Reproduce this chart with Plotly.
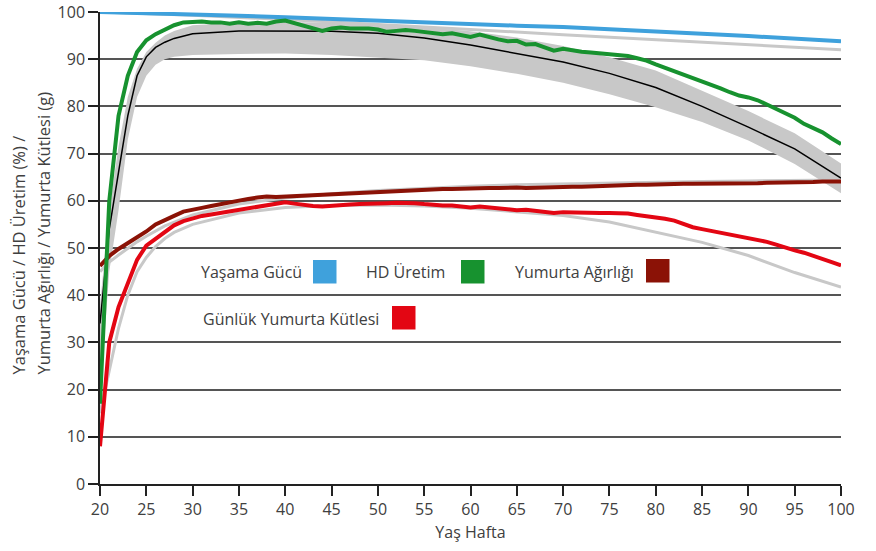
import plotly.graph_objects as go

# ---------------- data ----------------
weeks = list(range(20, 101))

hd_production = [17, 60, 78, 86.5, 91.5, 94, 95.3, 96.3, 97.2, 97.8,
                 98.0, 98.0, 97.8, 97.8, 97.5, 97.8, 97.5, 97.7, 97.5, 98.0,
                 98.2, 97.6, 97.0, 96.5, 96.0, 96.5, 96.7, 96.5, 96.6, 96.5,
                 96.3, 95.8, 96.0, 96.2, 96.0, 95.8, 95.6, 95.3, 95.5, 95.1,
                 94.7, 95.2, 94.6, 94.2, 93.8, 93.9, 93.1, 93.2, 92.5, 91.8,
                 92.2, 91.8, 91.6, 91.4, 91.2, 91.1, 91.0, 90.7, 90.2, 89.7,
                 88.9, 88.2, 87.5, 86.6, 85.9, 85.2, 84.5, 83.8, 83.0, 82.3,
                 81.9, 81.3, 80.4, 79.4, 78.6, 77.6, 76.3, 75.4, 74.5, 73.2,
                 72.0]

egg_weight = [46.2, 48.3, 49.8, 51.0, 52.2, 53.5, 55.0, 56.0, 56.8, 57.7,
              58.2, 58.5, 58.9, 59.3, 59.8, 60.1, 60.4, 60.7, 60.9, 60.8,
              60.9, 60.9, 61.0, 61.1, 61.2, 61.3, 61.4, 61.5, 61.6, 61.8,
              62.0, 62.1, 62.2, 62.3, 62.3, 62.4, 62.4, 62.5, 62.5, 62.6,
              62.6, 62.6, 62.7, 62.7, 62.8, 62.8, 62.7, 62.8, 62.9, 62.9,
              62.9, 63.0, 63.0, 63.1, 63.1, 63.2, 63.3, 63.3, 63.4, 63.4,
              63.5, 63.5, 63.6, 63.6, 63.6, 63.6, 63.7, 63.7, 63.6, 63.5,
              63.5, 63.7, 63.8, 63.8, 63.9, 63.9, 64.0, 64.0, 64.1, 64.1,
              64.1]

egg_mass = [8.0, 30.0, 37.5, 42.5, 47.5, 50.5, 52.0, 53.5, 54.8, 55.7,
            56.3, 56.8, 57.1, 57.4, 57.9, 58.2, 58.5, 58.8, 59.1, 59.4,
            59.7, 59.4, 59.1, 58.9, 58.8, 59.0, 59.2, 59.2, 59.3, 59.3,
            59.4, 59.5, 59.6, 59.6, 59.5, 59.3, 59.1, 59.0, 59.0, 58.8,
            58.6, 58.8, 58.6, 58.4, 58.2, 58.0, 58.1, 57.9, 57.6, 57.4,
            57.6, 57.5, 57.4, 57.4, 57.4, 57.4, 57.4, 57.3, 57.0, 56.8,
            56.5, 56.2, 55.8, 55.0, 54.4, 54.0, 53.6, 53.3, 52.9, 52.5,
            52.2, 51.8, 51.3, 50.7, 50.0, 49.5, 49.0, 48.4, 47.8, 47.0,
            46.3]

survival_weeks = [20, 25, 30, 35, 40, 45, 50, 55, 60, 65, 70, 75, 80, 85, 90, 95, 100]
survival = [100, 99.8, 99.5, 99.2, 98.9, 98.5, 98.1, 97.7, 97.4, 97.1, 96.8, 96.4,
            95.9, 95.4, 94.9, 94.4, 93.8]

surv_std_weeks = [20, 30, 40, 50, 60, 70, 80, 90, 100]
survival_std = [100, 99.3, 98.4, 97.4, 96.3, 95.2, 94.1, 93.0, 92.0]

hd_std_weeks = [20, 21, 22, 23, 24, 25, 26, 27, 28, 30, 35, 40, 45, 50, 55, 60,
                65, 70, 75, 80, 85, 90, 95, 100]
hd_std = [34, 54, 66, 78, 86.5, 90.5, 92.5, 93.6, 94.4, 95.4, 96.0, 96.0, 95.9,
          95.5, 94.5, 93.0, 91.2, 89.4, 87.0, 84.0, 80.0, 75.6, 71.0, 64.8]
hd_std_upper = [38, 58, 71.5, 82, 88, 91.5, 93.5, 95, 96, 97.2, 97.8, 97.9, 97.7,
                97.3, 96.8, 95.9, 94.6, 92.8, 90.4, 87.6, 83.3, 79.0, 74.3, 67.9]
hd_std_lower = [18, 45, 58, 73, 82, 86.5, 88.8, 90.0, 90.5, 90.9, 91.1, 91.2, 90.9,
                90.4, 89.8, 88.5, 86.9, 85.0, 82.6, 79.8, 76.7, 72.8, 67.8, 61.6]

ew_std_weeks = [20, 21, 22, 23, 24, 25, 27, 30, 35, 40, 45, 50, 55, 60, 65, 70,
                75, 80, 85, 90, 95, 100]
egg_weight_std = [45, 47, 48.5, 50, 51.3, 52.5, 54.7, 57, 59.3, 60.6, 61.5, 62.2,
                  62.7, 63.1, 63.4, 63.6, 63.8, 64.0, 64.1, 64.2, 64.3, 64.4]

em_std_weeks = [20, 21, 22, 23, 24, 25, 26, 27, 28, 30, 35, 40, 45, 50, 55, 60,
                65, 70, 75, 80, 85, 90, 95, 100]
egg_mass_std = [15, 24, 33, 40, 45, 48, 50.3, 52, 53.3, 55, 57.4, 58.6, 59.0, 59.1,
                58.9, 58.4, 57.7, 56.9, 55.5, 53.3, 51.2, 48.4, 44.8, 41.7]

x_ticks = list(range(20, 101, 5))
y_ticks = list(range(0, 101, 10))

legend_labels = ["Yaşama Gücü", "HD Üretim", "Yumurta Ağırlığı", "Günlük Yumurta Kütlesi"]
y_title_lines = ["Yaşama Gücü / HD Üretim (%) /", "Yumurta Ağırlığı / Yumurta Kütlesi (g)"]

# ---------------- styles ----------------
BLUE = "#3FA1DC"
GREEN = "#17922F"
DARKRED = "#8B1206"
RED = "#E30613"
GRAY = "#C8C8C8"
TEXT = "#404040"
FONT = "Open Sans"

fig = go.Figure()

# HD standard band
fig.add_trace(go.Scatter(x=hd_std_weeks, y=hd_std_lower, mode="lines",
                         line=dict(color=GRAY, width=0), hoverinfo="skip",
                         showlegend=False))
fig.add_trace(go.Scatter(x=hd_std_weeks, y=hd_std_upper, mode="lines",
                         line=dict(color=GRAY, width=0), fill="tonexty",
                         fillcolor=GRAY, hoverinfo="skip", showlegend=False))

# gray standard lines
for xs, ys in [(surv_std_weeks, survival_std), (ew_std_weeks, egg_weight_std),
               (em_std_weeks, egg_mass_std)]:
    fig.add_trace(go.Scatter(x=xs, y=ys, mode="lines",
                             line=dict(color=GRAY, width=3),
                             showlegend=False))

# HD standard mean
fig.add_trace(go.Scatter(x=hd_std_weeks, y=hd_std, mode="lines",
                         line=dict(color="#000000", width=1.5), showlegend=False))

# actual series
fig.add_trace(go.Scatter(x=survival_weeks, y=survival, mode="lines",
                         line=dict(color=BLUE, width=4), showlegend=False))
fig.add_trace(go.Scatter(x=weeks, y=egg_weight, mode="lines",
                         line=dict(color=DARKRED, width=4), showlegend=False))
fig.add_trace(go.Scatter(x=weeks, y=egg_mass, mode="lines",
                         line=dict(color=RED, width=4), showlegend=False))
fig.add_trace(go.Scatter(x=weeks, y=hd_production, mode="lines",
                         line=dict(color=GREEN, width=4), showlegend=False))

# legend as annotations + colored squares (paper pixel positions)
W, H = 876, 551
ml, mr, mt, mb = 100, 35, 12, 67
pw, ph = W - ml - mr, H - mt - mb

def px(xp):
    return (xp - ml) / pw

def py(yp):
    return 1 - (yp - mt) / ph

legend_items = [
    (legend_labels[0], BLUE, 303.5, 272, 313, 260),
    (legend_labels[1], GREEN, 447, 272, 461, 260),
    (legend_labels[2], DARKRED, 635.5, 272, 646, 259),
    (legend_labels[3], RED, 380.5, 319, 392, 306),
]
annotations = []
shapes = []
for label, col, tx, ty, sx, sy in legend_items:
    annotations.append(dict(x=px(tx), y=py(ty), xref="paper", yref="paper",
                            text=label, showarrow=False, xanchor="right",
                            yanchor="middle",
                            font=dict(family=FONT, size=16, color=TEXT)))
    shapes.append(dict(type="rect", xref="paper", yref="paper",
                       x0=px(sx), x1=px(sx + 23.5), y0=py(sy), y1=py(sy + 23.5),
                       fillcolor=col, line=dict(width=0)))

# y axis title (two lines, both starting at the same bottom point)
for line_text, cx in zip(y_title_lines, [18, 43]):
    annotations.append(dict(x=px(cx), y=py(377), xref="paper", yref="paper",
                            text=line_text, textangle=-90, showarrow=False,
                            xanchor="center", yanchor="bottom",
                            font=dict(family=FONT, size=16.5, color=TEXT)))

fig.update_layout(
    width=W, height=H,
    margin=dict(l=ml, r=mr, t=mt, b=mb, autoexpand=False),
    plot_bgcolor="white", paper_bgcolor="white",
    font=dict(family=FONT, size=16, color=TEXT),
    showlegend=False,
    annotations=annotations,
    shapes=shapes,
    xaxis=dict(range=[20, 100], tickvals=x_ticks, ticktext=[str(v) for v in x_ticks],
               showgrid=False, zeroline=False, showline=True, linecolor="#222222",
               linewidth=1.5, ticks="outside", ticklen=10, tickwidth=1.5,
               tickcolor="#222222", tickfont=dict(family=FONT, size=16, color=TEXT),
               ticklabeloverflow="allow", automargin=False,
               title=dict(text="Yaş Hafta", font=dict(family=FONT, size=16, color=TEXT),
                          standoff=8)),
    yaxis=dict(range=[0, 100], tickvals=y_ticks, ticktext=[str(v) for v in y_ticks],
               showgrid=True, gridcolor="#555555", gridwidth=1.5, zeroline=False,
               showline=True, linecolor="#222222", linewidth=1.5,
               ticks="outside", ticklen=10, tickwidth=1.5, tickcolor="#222222",
               ticklabeloverflow="allow", automargin=False,
               tickfont=dict(family=FONT, size=16, color=TEXT)),
)

fig.write_html("out.html", config={"displayModeBar": False},
               post_script="document.body.style.margin='0px';document.body.style.overflow='hidden';")
